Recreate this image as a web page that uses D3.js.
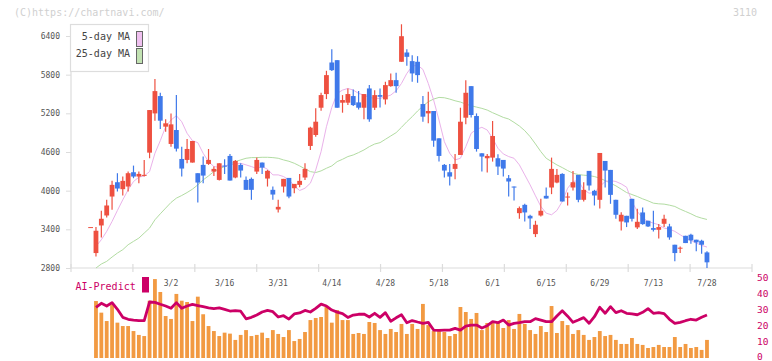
<!DOCTYPE html>
<html>
<head>
<meta charset="utf-8">
<script src="https://cdnjs.cloudflare.com/ajax/libs/d3/7.8.5/d3.min.js"></script>
<style>
body { margin: 0; background: #fff; }
svg text { font-family: "DejaVu Sans Mono", monospace; }
</style>
</head>
<body>
<div id="chart"></div>
<script>

///////////////////////////////////////////////////////////////////////////
////////////////////////////////// Data ///////////////////////////////////
///////////////////////////////////////////////////////////////////////////

var openP = [3435,3032,3460,3615,3909,4131,4023,4064,4286,4219,4229,4590,5199,5468,4993,4725,4941,4492,4477,4436,
	4271,4400,4415,4296,4167,4389,4539,4204,4400,4167,4183,4296,4436,4188,4013,3708,4064,4198,4038,4090,
	4204,4694,4864,5287,5499,5989,6025,5365,5365,5468,5370,5287,5586,5287,5483,5416,5622,5715,6000,6144,
	6010,6000,5344,5199,5236,4812,4400,4286,4338,4554,5132,5622,5158,4580,4503,4513,4503,4477,4193,4064,
	3651,3780,3610,3326,3615,3920,4049,4126,4260,3899,4049,4245,3858,4307,3997,3858,4461,4322,3858,3522,
	3610,3873,3430,3662,3533,3419,3393,3486,3445,3161,3104,3300,3316,3239,3223,3042];
var highP = [3435,3435,3688,3858,4152,4271,4219,4296,4389,4296,4477,5251,5731,5519,5107,5199,5483,4683,4802,4771,
	4271,4529,4647,4374,4425,4487,4570,4477,4425,4219,4204,4513,4436,4322,4064,3858,4183,4198,4105,4260,
	4425,4993,5277,5519,5860,6195,6025,5483,5586,5571,5545,5499,5638,5560,5586,5690,5819,5829,6582,6195,
	6102,6087,5468,5535,5236,4812,4415,4415,4570,5287,5715,5622,5199,4580,4570,5081,4565,4477,4245,4064,
	3755,3796,3626,3533,3873,4049,4513,4338,4271,3971,4307,4245,4131,4307,4013,4585,4461,4322,3858,3667,
	3610,3873,3718,3739,3533,3688,3481,3626,3486,3161,3135,3300,3331,3239,3239,3058];
var lowP = [3435,2980,3275,3584,3703,3987,3925,3987,4193,4116,4219,4503,5086,4957,4916,4683,4606,4219,4425,4436,
	3817,4116,4400,4229,4157,4260,4157,4193,4204,4013,3858,4260,4260,4064,3858,3662,3971,3884,3961,4054,
	4167,4632,4838,5241,5421,5855,5287,5210,5328,5313,5261,5107,5070,5251,5292,5339,5612,5519,6000,5937,
	5690,5674,5070,5045,4683,4451,4204,4080,4178,4554,5029,5137,4606,4296,4281,4451,4245,4219,3909,3848,
	3564,3522,3404,3280,3600,3878,3946,4116,3832,3770,4002,3822,3832,4002,3770,3724,4049,3796,3564,3383,
	3435,3522,3404,3471,3435,3368,3259,3435,3239,2903,3032,3187,3177,3058,3022,2800];
var closeP = [3435,3378,3564,3770,4090,4033,4152,4271,4219,4260,4245,5251,5545,5086,5045,5029,4652,4343,4647,4771,
	4126,4234,4477,4338,4425,4374,4157,4462,4312,4013,4013,4477,4358,4307,3940,3749,4183,3909,4105,4152,
	4338,4978,5070,5483,5793,5870,5287,5406,5499,5328,5287,5499,5107,5483,5457,5638,5715,5622,6397,6077,
	5819,5793,5148,5236,4776,4539,4312,4219,4415,5070,5519,5174,4647,4529,4539,4848,4374,4343,4142,4049,
	3729,3662,3569,3471,3688,3878,4338,4245,3832,3909,4131,3858,4013,4080,3925,4585,4312,3935,3626,3626,
	3507,3564,3517,3481,3445,3393,3435,3564,3275,3032,3115,3187,3228,3197,3161,2888];

var ma5 = [null,3135,3239,3368,3522,3693,3858,4013,4142,4209,4229,4296,4580,4776,4993,5096,5163,5070,4890,4776,
	4745,4580,4451,4374,4363,4384,4400,4415,4425,4400,4374,4343,4374,4333,4245,4245,4219,4167,4075,4002,
	4038,4116,4322,4606,4993,5292,5509,5561,5586,5561,5509,5483,5447,5432,5432,5457,5483,5550,5664,5819,
	5932,5948,5881,5664,5406,5096,4761,4580,4477,4503,4683,4890,4952,4983,4941,4812,4658,4570,4529,4503,
	4400,4245,4090,3920,3755,3651,3626,3693,3832,4038,4142,4157,4013,3961,3971,4064,4142,4157,4142,4105,
	4054,3832,3677,3574,3522,3497,3471,3419,3404,3368,3316,3264,3228,3187,3151,3125];
var ma25 = [null,2800,2862,2903,2970,3032,3084,3161,3213,3264,3342,3419,3548,3641,3729,3817,3884,3925,3971,4023,
	4090,4167,4229,4296,4338,4374,4410,4451,4477,4503,4513,4513,4518,4518,4513,4503,4477,4456,4425,4384,
	4338,4296,4281,4307,4348,4384,4451,4487,4529,4554,4591,4632,4683,4724,4745,4797,4849,4900,4983,5070,
	5148,5236,5313,5380,5421,5447,5442,5421,5395,5375,5344,5318,5297,5277,5251,5210,5174,5137,5112,5060,
	5003,4931,4838,4725,4606,4503,4451,4400,4358,4312,4271,4250,4240,4234,4219,4193,4157,4116,4075,4023,
	3971,3940,3909,3873,3842,3806,3796,3791,3775,3755,3713,3677,3641,3600,3574,3553];

var volume = [null,35.3,28.1,22.9,33.3,21.9,19.8,19.8,16.7,14.3,13.6,35.5,48.9,40.9,26.0,24.2,39.7,35.5,34.7,22.9,
	38.0,27.1,19.8,16.7,13.6,15.7,15.1,11.2,14.3,17.3,13.6,14.3,15.7,12.4,17.3,14.9,13.0,17.3,10.5,11.8,
	16.1,23.5,24.8,25.4,31.6,21.9,29.7,23.5,23.5,14.9,15.5,14.9,22.3,21.7,17.3,14.9,18.0,16.1,21.1,14.9,
	21.1,18.0,33.5,20.4,16.7,16.7,16.1,13.6,14.9,31.6,28.5,24.2,27.9,17.3,21.7,21.7,21.7,18.6,23.5,18.0,
	27.3,21.1,17.3,14.9,19.8,16.1,32.2,15.5,22.9,20.4,14.9,17.3,14.3,11.2,13.0,16.7,13.6,14.3,11.2,8.7,
	8.7,12.4,8.7,8.1,6.2,6.8,8.1,6.8,6.8,13.0,6.8,8.7,6.2,6.8,5.0,11.2];
var aiPredict = [null,31.4,33.9,32.2,34.3,30.2,25.2,24.0,23.5,23.1,23.1,34.7,34.5,33.3,32.2,30.8,34.3,30.8,32.2,33.2,
	32.5,31.8,31.1,30.6,31.0,30.1,29.1,29.4,29.0,24.3,25.2,26.6,28.5,29.5,28.7,25.4,26.2,24.1,27.3,27.9,
	29.5,28.5,30.7,33.4,32.2,29.7,28.4,27.5,25.1,26.6,27.1,27.2,25.4,27.7,25.2,28.1,22.8,24.9,26.8,21.8,
	23.2,22.3,21.5,22.1,17.3,17.1,17.3,17.3,18.4,17.3,19.8,20.4,20.4,18.6,20.0,22.5,21.9,23.5,20.4,21.5,
	21.9,22.5,22.5,24.4,23.5,22.5,22.5,26.0,29.3,25.9,22.1,23.5,25.0,21.5,25.6,31.4,27.7,31.8,28.1,29.3,
	27.7,27.3,26.8,28.3,30.6,27.7,28.1,27.5,24.0,21.5,22.1,23.1,24.0,23.5,25.2,26.6];

var dateLabels = ["3/2","3/16","3/31","4/14","4/28","5/18","6/1","6/15","6/29","7/13","7/28"];
var dateIndex = [15,25,35,45,55,65,75,85,95,105,115];
var priceTicks = [2800,3400,4000,4600,5200,5800,6400];
var aiTicks = [0,10,20,30,40,50];

///////////////////////////////////////////////////////////////////////////
//////////////////// Set up and initiate svg containers ///////////////////
///////////////////////////////////////////////////////////////////////////

var width = 772, height = 361;
var upColor = "#ee5040", downColor = "#3f79ea", aiColor = "#cc0066";

var svg = d3.select("#chart").append("svg")
	.attr("width", width)
	.attr("height", height);

var x = d3.scaleLinear().domain([-3.66, 123.4]).range([71, 752]);
var y = d3.scaleLinear().domain([2800, 6400]).range([268, 36]);
var yv = d3.scaleLinear().domain([0, 50]).range([358, 277.3]);
var grid = d3.scaleLinear().domain([0, 11]).range([71, 752]);

var candles = d3.range(openP.length).map(function(i) {
	return {i: i, o: openP[i], h: highP[i], l: lowP[i], c: closeP[i]};
});

//Header texts
svg.append("text").attr("x", 14).attr("y", 16)
	.style("font-size", "10px").style("fill", "#d0d0d0")
	.text("(C)https://chartnavi.com/");
svg.append("text").attr("x", 757).attr("y", 16).attr("text-anchor", "end")
	.style("font-size", "10px").style("fill", "#d0d0d0")
	.text("3110");

///////////////////////////////////////////////////////////////////////////
///////////////////////////////// Axes ////////////////////////////////////
///////////////////////////////////////////////////////////////////////////

var yAxis = svg.append("g")
	.attr("transform", "translate(71,0)")
	.call(d3.axisLeft(y).tickValues(priceTicks).tickFormat(d3.format("d"))
		.tickSize(5).tickSizeOuter(0).tickPadding(6));
yAxis.select(".domain").remove();
yAxis.selectAll("line").style("stroke", "#dcdcdc");
yAxis.selectAll("text").style("font-size", "8px").style("fill", "#555").style("font-family", "DejaVu Sans Mono");

svg.append("line")
	.attr("x1", 71).attr("x2", 71).attr("y1", 24).attr("y2", 268)
	.style("stroke", "#dcdcdc").style("stroke-width", 1.2);
svg.append("line")
	.attr("x1", 71).attr("x2", 752).attr("y1", 268).attr("y2", 268)
	.style("stroke", "#dcdcdc").style("stroke-width", 1.2);

svg.selectAll(".gridTick")
	.data(d3.range(12))
	.enter().append("line")
	.attr("class", "gridTick")
	.attr("x1", function(d) { return grid(d); })
	.attr("x2", function(d) { return grid(d); })
	.attr("y1", 264).attr("y2", 272)
	.style("stroke", "#dcdcdc").style("stroke-width", 1.2);

svg.selectAll(".dateLabel")
	.data(dateLabels)
	.enter().append("text")
	.attr("class", "dateLabel")
	.attr("x", function(d, k) { return x(dateIndex[k]); })
	.attr("y", 285.5)
	.attr("text-anchor", "middle")
	.style("font-size", "8px").style("fill", "#555")
	.text(function(d) { return d; });

svg.selectAll(".aiTick")
	.data(aiTicks)
	.enter().append("text")
	.attr("class", "aiTick")
	.attr("x", 757)
	.attr("y", function(d) { return Math.min(yv(d) + 3.5, 360); })
	.style("font-size", "9.5px").style("fill", aiColor)
	.text(function(d) { return d; });

///////////////////////////////////////////////////////////////////////////
///////////////////////////// Moving averages /////////////////////////////
///////////////////////////////////////////////////////////////////////////

var maLine = function(arr) {
	return d3.line()
		.defined(function(d) { return arr[d] != null; })
		.x(function(d) { return x(d); })
		.y(function(d) { return y(arr[d]); });
};

svg.append("path")
	.datum(d3.range(ma25.length))
	.attr("d", maLine(ma25))
	.style("fill", "none").style("stroke", "#b2dca2").style("stroke-width", 1);

svg.append("path")
	.datum(d3.range(ma5.length))
	.attr("d", maLine(ma5))
	.style("fill", "none").style("stroke", "#eab2ea").style("stroke-width", 1);

///////////////////////////////////////////////////////////////////////////
/////////////////////////////// Candles ///////////////////////////////////
///////////////////////////////////////////////////////////////////////////

var candleColor = function(d) { return d.c >= d.o ? upColor : downColor; };

svg.selectAll(".wick")
	.data(candles)
	.enter().append("line")
	.attr("class", "wick")
	.attr("x1", function(d) { return x(d.i); })
	.attr("x2", function(d) { return x(d.i); })
	.attr("y1", function(d) { return y(d.h); })
	.attr("y2", function(d) { return y(d.l); })
	.style("stroke", candleColor).style("stroke-width", 1.2);

svg.selectAll(".body")
	.data(candles)
	.enter().append("rect")
	.attr("class", "body")
	.attr("x", function(d) { return x(d.i) - 2.4; })
	.attr("width", 4.8)
	.attr("y", function(d) { return y(Math.max(d.o, d.c)); })
	.attr("height", function(d) { return Math.max(1, Math.abs(y(d.o) - y(d.c))); })
	.style("fill", candleColor);

///////////////////////////////////////////////////////////////////////////
////////////////////////// Volume and AI-Predict //////////////////////////
///////////////////////////////////////////////////////////////////////////

svg.selectAll(".vol")
	.data(d3.range(volume.length).filter(function(i) { return volume[i] != null; }))
	.enter().append("rect")
	.attr("class", "vol")
	.attr("x", function(i) { return x(i) - 1.9; })
	.attr("width", 3.8)
	.attr("y", function(i) { return yv(volume[i]); })
	.attr("height", function(i) { return yv(0) - yv(volume[i]); })
	.style("fill", "#f29a42");

svg.append("path")
	.datum(d3.range(aiPredict.length).filter(function(i) { return aiPredict[i] != null; }))
	.attr("d", d3.line()
		.x(function(i) { return x(i); })
		.y(function(i) { return yv(aiPredict[i]); }))
	.style("fill", "none").style("stroke", aiColor).style("stroke-width", 2.8)
	.style("stroke-linejoin", "round");

svg.append("text").attr("x", 75.5).attr("y", 289.5)
	.style("font-size", "10px").style("fill", aiColor)
	.text("AI-Predict");
svg.append("rect")
	.attr("x", 142).attr("y", 277).attr("width", 7).attr("height", 15.5)
	.style("fill", aiColor);

///////////////////////////////////////////////////////////////////////////
//////////////////////////////// Legend ///////////////////////////////////
///////////////////////////////////////////////////////////////////////////

var legend = svg.append("g").attr("class", "legend");
legend.append("rect")
	.attr("x", 70.5).attr("y", 24.5).attr("width", 78).attr("height", 47)
	.style("fill", "#fff").style("stroke", "#dddddd").style("stroke-width", 1.2);

var legendItems = [{label: "5-day MA", fill: "#efc0ef"}, {label: "25-day MA", fill: "#c2e2b2"}];
legendItems.forEach(function(d, k) {
	legend.append("text")
		.attr("x", 130).attr("y", 40 + k * 17)
		.attr("text-anchor", "end")
		.style("font-size", "10px").style("fill", "#444")
		.text(d.label);
	legend.append("rect")
		.attr("x", 136.5).attr("y", 31.5 + k * 17).attr("width", 6).attr("height", 15)
		.style("fill", d.fill).style("stroke", "#666").style("stroke-width", 1);
});

</script>
</body>
</html>
